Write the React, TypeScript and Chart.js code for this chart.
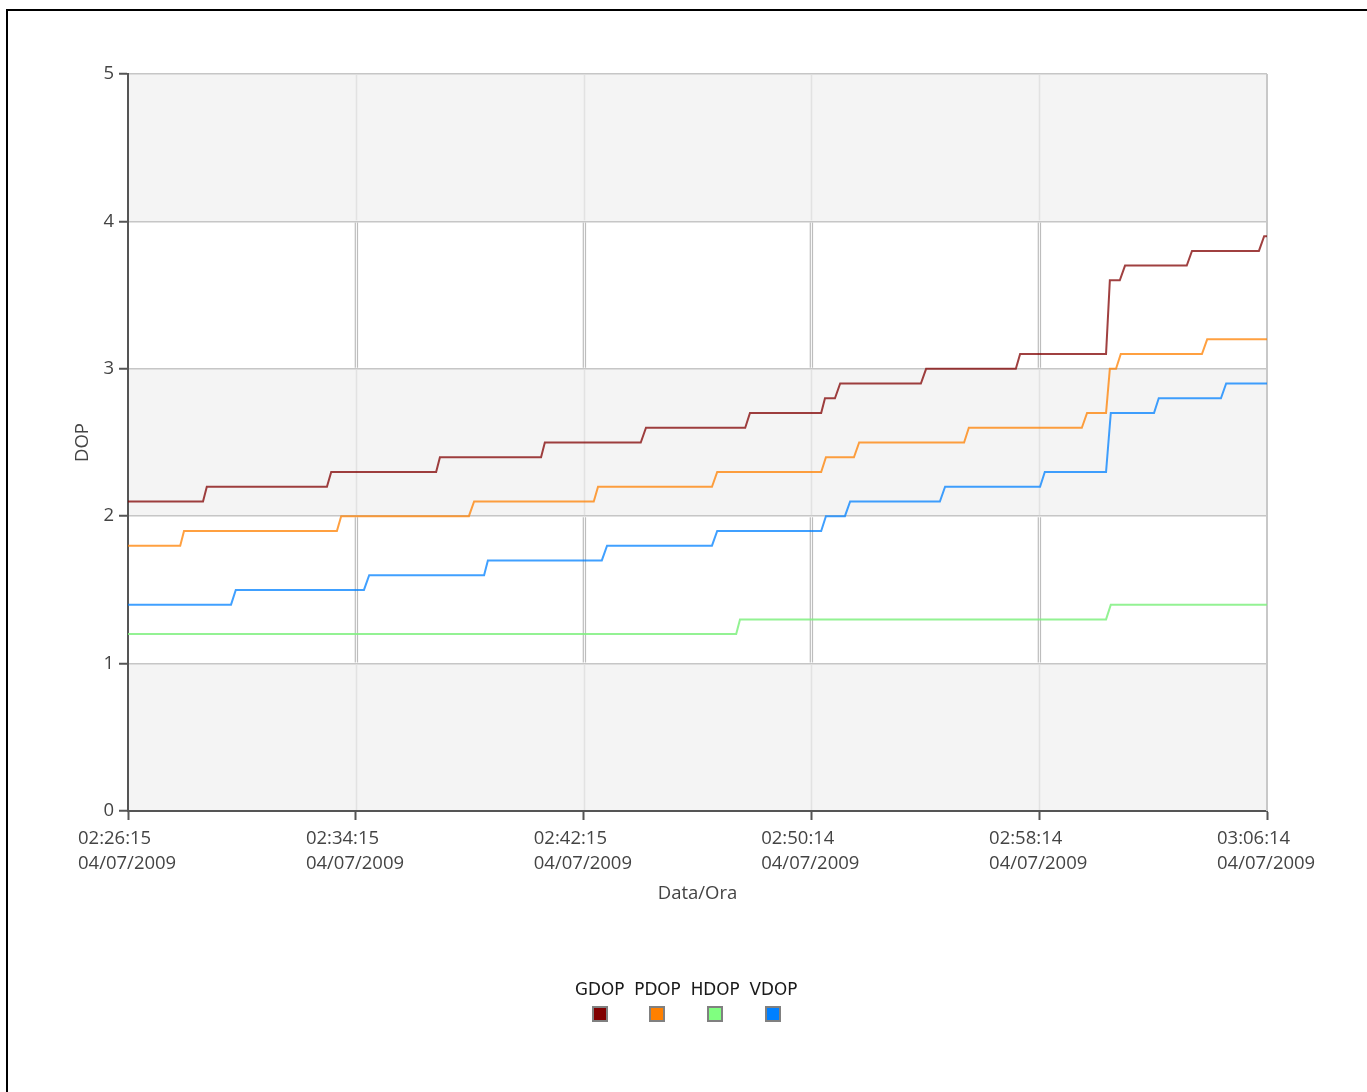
import React, { useEffect, useRef } from "react";
import { Chart, registerables } from "chart.js";

Chart.register(...registerables);

// ---- data ----
const seriesNames = ["GDOP", "PDOP", "HDOP", "VDOP"];
const swatchColors = ["#800000", "#ff8000", "#80ff80", "#0080ff"];
const lineColors = [
  "rgba(128,0,0,0.75)",
  "rgba(255,128,0,0.75)",
  "rgba(128,240,128,0.85)",
  "rgba(0,128,255,0.75)",
];

// x values are seconds elapsed since 02:26:15 04/07/2009
const xTickSeconds = [0, 480, 960, 1439, 1919, 2399];
const xTickLabels = [
  ["02:26:15", "04/07/2009"],
  ["02:34:15", "04/07/2009"],
  ["02:42:15", "04/07/2009"],
  ["02:50:14", "04/07/2009"],
  ["02:58:14", "04/07/2009"],
  ["03:06:14", "04/07/2009"],
];
const yTickValues = [0, 1, 2, 3, 4, 5];

const gdopTime = [0, 158, 166, 419, 428, 649, 657, 870, 878, 1080, 1091, 1300, 1310, 1460, 1468, 1489, 1500, 1670, 1681, 1870, 1879, 2060, 2068, 2089, 2100, 2230, 2241, 2382, 2393, 2399];
const gdopValue = [2.1, 2.1, 2.2, 2.2, 2.3, 2.3, 2.4, 2.4, 2.5, 2.5, 2.6, 2.6, 2.7, 2.7, 2.8, 2.8, 2.9, 2.9, 3.0, 3.0, 3.1, 3.1, 3.6, 3.6, 3.7, 3.7, 3.8, 3.8, 3.9, 3.9];

const pdopTime = [0, 110, 118, 440, 449, 718, 729, 981, 990, 1230, 1241, 1460, 1470, 1529, 1540, 1761, 1771, 2009, 2020, 2060, 2068, 2081, 2091, 2262, 2273, 2399];
const pdopValue = [1.8, 1.8, 1.9, 1.9, 2.0, 2.0, 2.1, 2.1, 2.2, 2.2, 2.3, 2.3, 2.4, 2.4, 2.5, 2.5, 2.6, 2.6, 2.7, 2.7, 3.0, 3.0, 3.1, 3.1, 3.2, 3.2];

const hdopTime = [0, 1281, 1289, 2060, 2070, 2399];
const hdopValue = [1.2, 1.2, 1.3, 1.3, 1.4, 1.4];

const vdopTime = [0, 217, 227, 497, 508, 750, 758, 998, 1009, 1230, 1241, 1460, 1470, 1510, 1521, 1710, 1721, 1921, 1931, 2060, 2070, 2161, 2171, 2302, 2313, 2399];
const vdopValue = [1.4, 1.4, 1.5, 1.5, 1.6, 1.6, 1.7, 1.7, 1.8, 1.8, 1.9, 1.9, 2.0, 2.0, 2.1, 2.1, 2.2, 2.2, 2.3, 2.3, 2.7, 2.7, 2.8, 2.8, 2.9, 2.9];

const seriesTimes = [gdopTime, pdopTime, hdopTime, vdopTime];
const seriesValues = [gdopValue, pdopValue, hdopValue, vdopValue];

// ---- styling ----
const FONT = "'Open Sans', 'Noto Sans', sans-serif";
const TEXT = "#444444";
const BAND_GRAY = "#f4f4f4";

const bandsPlugin = {
  id: "bands",
  beforeDraw(chart: any) {
    const { ctx, chartArea: a, scales } = chart;
    const y = scales.y;
    ctx.save();
    ctx.fillStyle = BAND_GRAY;
    for (let k = 0; k < 5; k += 2) {
      const top = y.getPixelForValue(k + 1);
      const bot = y.getPixelForValue(k);
      ctx.fillRect(a.left, top, a.right - a.left, bot - top);
    }
    ctx.restore();
  },
  beforeDatasetsDraw(chart: any) {
    const { ctx, chartArea: a, scales } = chart;
    const x = scales.x;
    const y = scales.y;
    ctx.save();
    for (let i = 1; i < xTickSeconds.length - 1; i++) {
      const px = Math.round(x.getPixelForValue(xTickSeconds[i])) + 0.5;
      for (let k = 0; k < 5; k++) {
        const top = y.getPixelForValue(k + 1) + 1;
        const bot = y.getPixelForValue(k) - 1;
        if (k % 2 === 0) {
          ctx.strokeStyle = "#e2e2e2";
          ctx.lineWidth = 1.5;
          ctx.beginPath();
          ctx.moveTo(px, top);
          ctx.lineTo(px, bot);
          ctx.stroke();
        } else {
          ctx.strokeStyle = "#bdbdbd";
          ctx.lineWidth = 1.2;
          ctx.beginPath();
          ctx.moveTo(px - 1.2, top);
          ctx.lineTo(px - 1.2, bot);
          ctx.moveTo(px + 1, top);
          ctx.lineTo(px + 1, bot);
          ctx.stroke();
        }
      }
    }
    // right border of plot
    ctx.strokeStyle = "#c8c8c8";
    ctx.lineWidth = 2;
    ctx.beginPath();
    ctx.moveTo(a.right, a.top);
    ctx.lineTo(a.right, a.bottom);
    ctx.stroke();
    ctx.restore();
  },
};

export default function App() {
  const canvasRef = useRef<HTMLCanvasElement | null>(null);

  useEffect(() => {
    const canvas = canvasRef.current;
    if (!canvas) return;
    const chart = new Chart(canvas, {
      type: "line",
      data: {
        datasets: seriesNames.map((name, s) => ({
          label: name,
          data: seriesTimes[s].map((t, i) => ({ x: t, y: seriesValues[s][i] })),
          borderColor: lineColors[s],
          backgroundColor: swatchColors[s],
          borderWidth: 2,
          pointRadius: 0,
          tension: 0,
          fill: false,
        })),
      },
      options: {
        animation: false,
        responsive: false,
        layout: { padding: { left: 72, top: 74, right: 100, bottom: 187 } },
        plugins: {
          legend: { display: false },
          tooltip: { enabled: false },
        },
        scales: {
          x: {
            type: "linear",
            min: 0,
            max: 2399,
            afterBuildTicks: (s: any) => {
              s.ticks = xTickSeconds.map((v) => ({ value: v }));
            },
            afterFit: (s: any) => {
              s.height = 94;
              s.paddingLeft = 0;
              s.paddingRight = 0;
            },
            ticks: {
              autoSkip: false,
              maxRotation: 0,
              minRotation: 0,
              align: "start",
              labelOffset: -50,
              padding: 6,
              color: TEXT,
              font: { family: FONT, size: 18.5, lineHeight: 1.36 },
              callback: (_v: any, i: number) => xTickLabels[i],
            },
            grid: {
              drawOnChartArea: false,
              tickColor: "#555555",
              tickLength: 9,
              tickWidth: 2,
            },
            border: { color: "#555555", width: 2 },
            title: {
              display: true,
              text: "Data/Ora",
              color: TEXT,
              font: { family: FONT, size: 18.5, lineHeight: 1.2 },
              padding: 0,
            },
          },
          y: {
            type: "linear",
            min: 0,
            max: 5,
            afterBuildTicks: (s: any) => {
              s.ticks = yTickValues.map((v) => ({ value: v }));
            },
            afterFit: (s: any) => {
              s.width = 56;
              s.paddingTop = 0;
              s.paddingBottom = 0;
            },
            ticks: {
              padding: 5,
              color: TEXT,
              font: { family: FONT, size: 18.5 },
              callback: (v: any) => String(v),
            },
            grid: {
              color: (c: any) => (c.tick && c.tick.value === 0 ? "rgba(0,0,0,0)" : "#c6c6c6"),
              lineWidth: 1.5,
              tickColor: "#555555",
              tickLength: 9,
              tickWidth: 2,
            },
            border: { color: "#555555", width: 2 },
            title: {
              display: true,
              text: "DOP",
              color: TEXT,
              font: { family: FONT, size: 18.5, lineHeight: 1.2 },
              padding: 0,
            },
          },
        },
      },
      plugins: [bandsPlugin],
    } as any);
    return () => chart.destroy();
  }, []);

  return (
    <div
      style={{
        position: "fixed",
        left: 0,
        top: 0,
        width: 1367,
        height: 1092,
        overflow: "hidden",
        background: "#ffffff",
      }}
    >
      <canvas
        ref={canvasRef}
        width={1367}
        height={1092}
        style={{ position: "absolute", left: 0, top: 0, width: 1367, height: 1092 }}
      />
      <div
        style={{
          position: "absolute",
          left: 6,
          top: 9,
          width: 1400,
          height: 1100,
          borderLeft: "2px solid #000",
          borderTop: "2px solid #000",
          pointerEvents: "none",
        }}
      />
      <div
        style={{
          position: "absolute",
          left: 575,
          top: 979,
          display: "flex",
          gap: 10,
          fontFamily: "'DejaVu Sans', sans-serif",
          fontSize: 16.8,
          lineHeight: "21px",
          color: "#1a1a1a",
        }}
      >
        {seriesNames.map((name, i) => (
          <div
            key={name}
            style={{ display: "flex", flexDirection: "column", alignItems: "center" }}
          >
            <div>{name}</div>
            <div
              style={{
                marginTop: 6,
                width: 12,
                height: 12,
                border: "2px solid #808080",
                background: swatchColors[i],
              }}
            />
          </div>
        ))}
      </div>
    </div>
  );
}
